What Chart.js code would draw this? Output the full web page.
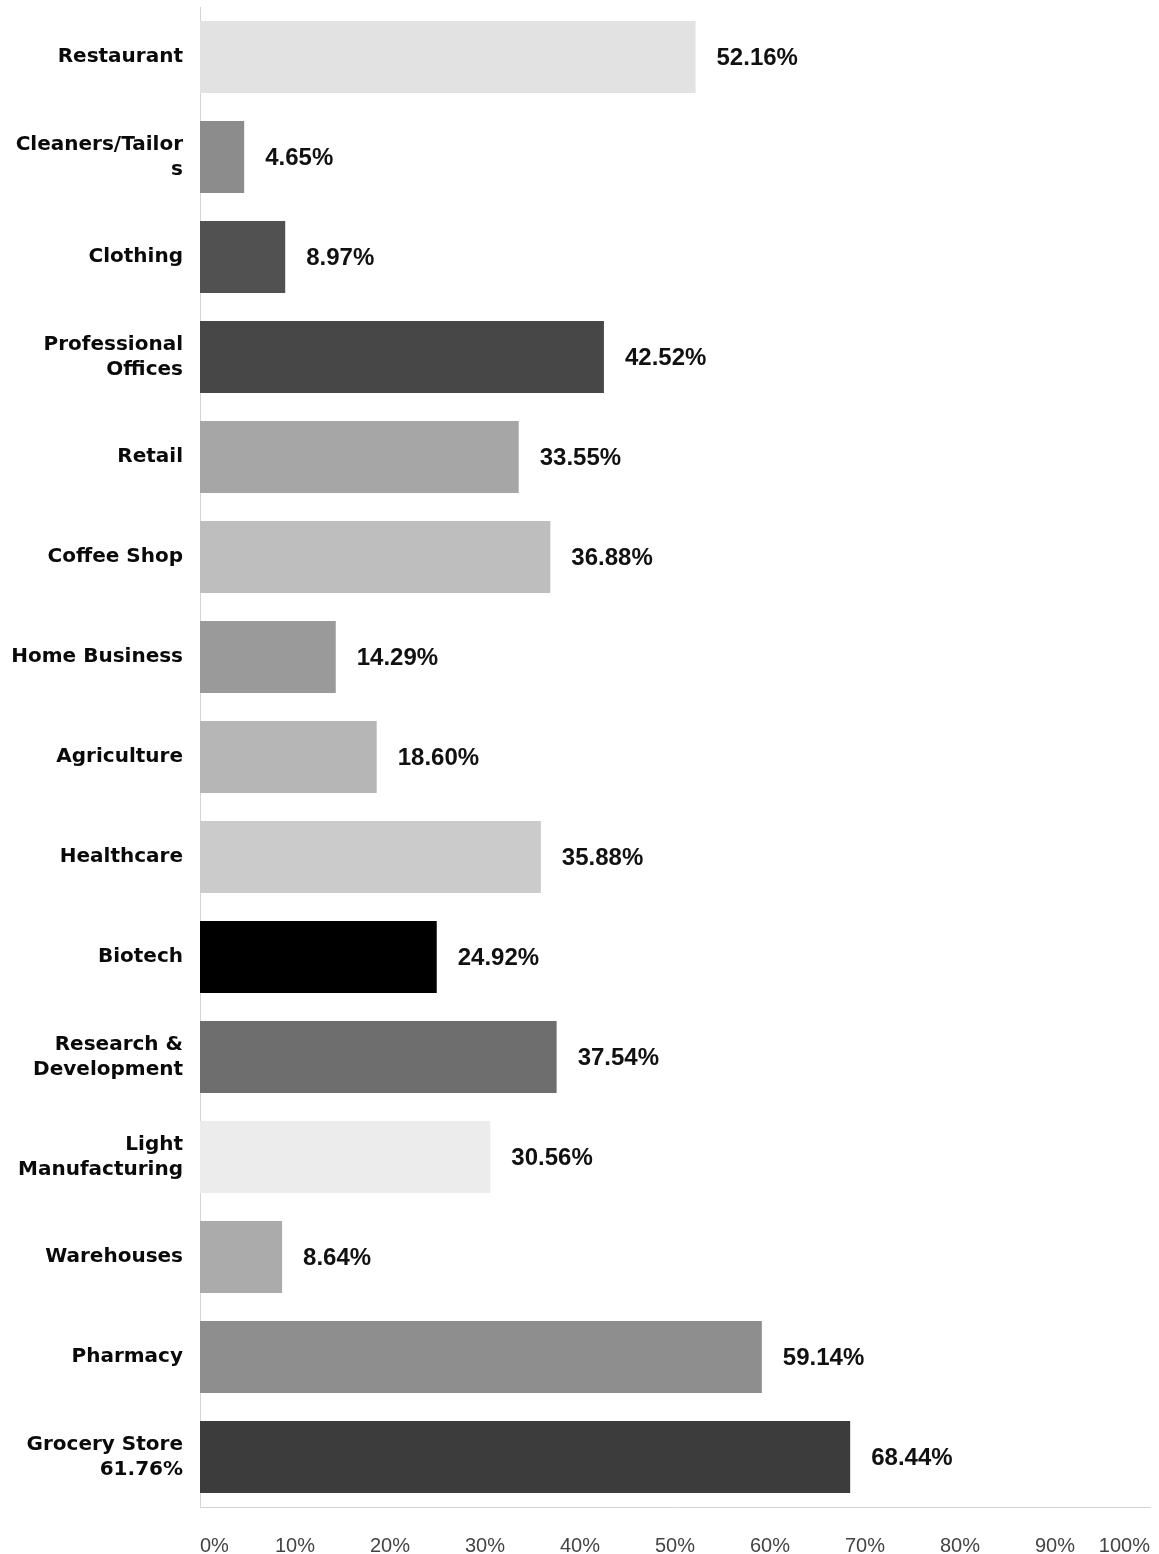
<!DOCTYPE html>
<html>
<head>
<meta charset="utf-8">
<script src="https://cdn.jsdelivr.net/npm/chart.js@4.4.1/dist/chart.umd.min.js"></script>
<style>
  html, body { margin: 0; padding: 0; background: #ffffff; }
  #wrap { width: 1159px; height: 1554px; position: relative; }
</style>
</head>
<body>
<div id="wrap"><canvas id="c" width="1159" height="1554"></canvas></div>
<script>
const categories = [
  "Restaurant",
  ["Cleaners/Tailor", "s"],
  "Clothing",
  ["Professional", "Offices"],
  "Retail",
  "Coffee Shop",
  "Home Business",
  "Agriculture",
  "Healthcare",
  "Biotech",
  ["Research &", "Development"],
  ["Light", "Manufacturing"],
  "Warehouses",
  "Pharmacy",
  ["Grocery Store", "61.76%"]
];
const values = [52.16, 4.65, 8.97, 42.52, 33.55, 36.88, 14.29, 18.60, 35.88, 24.92, 37.54, 30.56, 8.64, 59.14, 68.44];
const valueLabels = ["52.16%", "4.65%", "8.97%", "42.52%", "33.55%", "36.88%", "14.29%", "18.60%", "35.88%", "24.92%", "37.54%", "30.56%", "8.64%", "59.14%", "68.44%"];
const barColors = ["#e2e2e2", "#8c8c8c", "#515151", "#474747", "#a6a6a6", "#bebebe", "#9a9a9a", "#b6b6b6", "#cbcbcb", "#000000", "#6e6e6e", "#ececec", "#ababab", "#8e8e8e", "#3c3c3c"];
const tickValues = [0, 10, 20, 30, 40, 50, 60, 70, 80, 90, 100];

const valueLabelPlugin = {
  id: 'valueLabels',
  afterDatasetsDraw(chart) {
    const ctx = chart.ctx;
    const meta = chart.getDatasetMeta(0);
    ctx.save();
    ctx.font = "bold 24px 'Liberation Sans Narrow', 'Liberation Sans', Arial, sans-serif";
    ctx.fillStyle = "#111111";
    ctx.textAlign = "left";
    ctx.textBaseline = "middle";
    meta.data.forEach((bar, i) => {
      ctx.fillText(valueLabels[i], bar.x + 21, bar.y + 1);
    });
    ctx.restore();
  }
};

new Chart(document.getElementById('c'), {
  type: 'bar',
  data: {
    labels: categories,
    datasets: [{
      data: values,
      backgroundColor: barColors,
      borderWidth: 0,
      barPercentage: 1.0,
      categoryPercentage: 0.72
    }]
  },
  options: {
    indexAxis: 'y',
    responsive: false,
    animation: false,
    layout: { padding: { top: 7, right: 9, left: 0, bottom: 0 } },
    plugins: { legend: { display: false }, tooltip: { enabled: false } },
    scales: {
      x: {
        min: 0,
        max: 100,
        afterBuildTicks(scale) { scale.ticks = tickValues.map(v => ({ value: v })); },
        afterFit(scale) {
          scale.height = 47;
          scale.paddingLeft = 0; scale.paddingRight = 0;
        },
        grid: { display: false, drawTicks: false },
        border: { display: true, color: '#d4d4d4', dash: [1, 3] },
        ticks: {
          align: 'inner',
          padding: 27,
          color: '#444444',
          font: { family: "'Liberation Sans', Arial, sans-serif", size: 20 },
          callback: (v) => v + '%'
        }
      },
      y: {
        afterFit(scale) {
          scale.width = 200;
          scale.paddingTop = 0; scale.paddingBottom = 0;
        },
        grid: { display: false, drawTicks: false },
        border: { display: true, color: '#d4d4d4', dash: [1, 3] },
        ticks: {
          padding: 17,
          color: '#0a0a0a',
          font: { family: "'DejaVu Sans', Verdana, sans-serif", size: 20, weight: 'bold', lineHeight: 1.27 }
        }
      }
    }
  },
  plugins: [valueLabelPlugin]
});
</script>
</body>
</html>
